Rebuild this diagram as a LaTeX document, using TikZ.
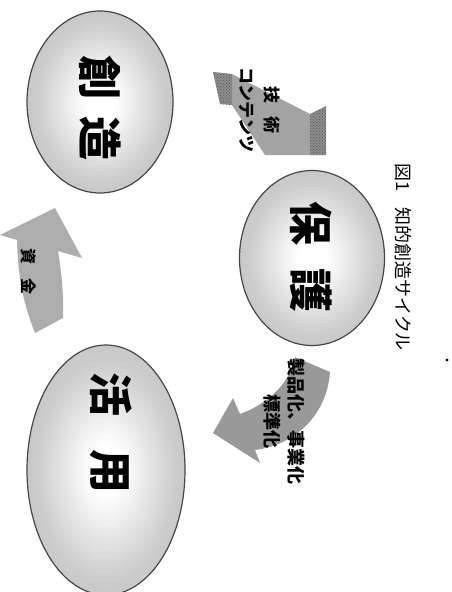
\documentclass[tikz,border=0pt]{standalone}
\usepackage{fontspec}
\newfontfamily\jp{Noto Sans CJK JP}
\usetikzlibrary{shapes.geometric,patterns}
\definecolor{edgegray}{gray}{0.28}
\definecolor{ringmid}{gray}{0.80}
\definecolor{ringout}{gray}{0.66}
\definecolor{arrowA}{gray}{0.64}
\definecolor{arrowB}{gray}{0.60}
\definecolor{arrowC}{gray}{0.68}
\definecolor{capgray}{gray}{0.55}
\definecolor{capdot}{gray}{0.35}
\pgfdeclareradialshading{ellsh}{\pgfpoint{0bp}{0bp}}{color(0bp)=(white); color(5bp)=(white); color(22bp)=(ringmid); color(48bp)=(ringout); color(80bp)=(ringout)}
\begin{document}
\begin{tikzpicture}[x=1pt,y=-1pt,
  ell/.style={ellipse, draw=edgegray, line width=1.2pt, shading=ellsh, inner sep=0pt},
  big/.style={font=\jp\bfseries\fontsize{44}{44}\selectfont, rotate=-90, inner sep=0pt},
  lab/.style={font=\jp\bfseries\fontsize{17}{25}\selectfont, rotate=-90, align=center, inner sep=0pt},
  stip/.style={fill=capgray, pattern color=capdot},
]
\useasboundingbox (0,0) rectangle (451,592);
\clip (0,0) rectangle (451,592);
\fill[white] (0,0) rectangle (451,592);

% ellipses
\node[ell, minimum width=146pt, minimum height=182pt] (souzou) at (100,102) {};
\node[ell, minimum width=145pt, minimum height=175pt] (hogo) at (312,258) {};
\node[ell, minimum width=158pt, minimum height=250pt] (katsuyou) at (106,470) {};

\node[big] (t1) at (100,108) {創\hspace{17pt}造};
\node[big] (t2) at (311,257) {保\hspace{24pt}護};
\node[big] (t3) at (111,433) {活\hspace{34pt}用};

% arrow: technology / contents
\fill[arrowA] (232,74) -- (310,114) -- (310,155) -- (265,155) -- (232,105) -- cycle;
\fill[stip] (213,72) -- (232,74) -- (232,105) -- (220,104) -- cycle;
\fill[pattern=crosshatch dots, pattern color=capdot] (213,72) -- (232,74) -- (232,105) -- (220,104) -- cycle;
\fill[stip] (310,114) -- (326,106) -- (326,155) -- (310,155) -- cycle;
\fill[pattern=crosshatch dots, pattern color=capdot] (310,114) -- (326,106) -- (326,155) -- (310,155) -- cycle;
\node[lab] (l1) at (260,110) {技\hspace{14pt}術\\コンテンツ};

% arrow: products
\fill[arrowB] (295,357) -- (330,372) .. controls (327,415) and (295,445) .. (255,450)
  -- (260,463) -- (213,433) -- (233,398) -- (240,414)
  .. controls (265,405) and (290,385) .. (295,357) -- cycle;
\node[lab, font=\jp\bfseries\fontsize{18}{24}\selectfont] (l2) at (284,421) {製品化、事業化\\標準化};

% arrow: funds
\fill[arrowC] (35,333) .. controls (24,305) and (18,280) .. (17,240)
  -- (0,235) -- (55,208) -- (82,258) -- (58,251)
  .. controls (62,275) and (64,300) .. (63,318) -- cycle;
\node[lab, font=\jp\bfseries\fontsize{16}{16}\selectfont] (l3) at (29,271) {資\hspace{14pt}金};

% caption
\node[font=\jp\fontsize{18}{18}\selectfont, rotate=-90, anchor=west, inner sep=0pt] (cap) at (403,163) {図1\hspace{0.9em}知的創造サイクル};
\fill (447,360) circle (1.6);
\end{tikzpicture}
\end{document}
